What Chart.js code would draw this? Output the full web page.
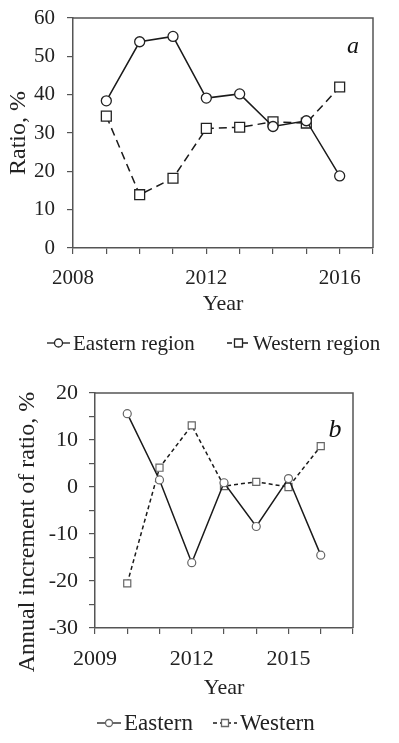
<!DOCTYPE html>
<html>
<head>
<meta charset="utf-8">
<script src="https://cdn.jsdelivr.net/npm/chart.js@4.4.1/dist/chart.umd.min.js"></script>
<style>
  body { margin: 0; background: #fff; }
  .box { position: absolute; left: 0; width: 399px; }
</style>
</head>
<body>
<div class="box" style="top:0"><canvas id="ratio" width="399" height="355"></canvas></div>
<div class="box" style="top:355px"><canvas id="increment" width="399" height="388"></canvas></div>
<script>
// panel a: ratio by year
const ratioYears = [2009, 2010, 2011, 2012, 2013, 2014, 2015, 2016];
const eastRatio = [38.4, 53.8, 55.2, 39.1, 40.2, 31.7, 33.2, 18.8];
const westRatio = [34.4, 13.9, 18.2, 31.2, 31.5, 32.9, 32.6, 42.0];
const ratioTickLabels = [2008, 2012, 2016];

// panel b: annual increment
const incYears = [2010, 2011, 2012, 2013, 2014, 2015, 2016];
const eastInc = [15.6, 1.5, -16.1, 0.9, -8.4, 1.8, -14.5];
const westInc = [-20.5, 4.1, 13.1, 0.2, 1.1, 0.0, 8.7];
const incTickLabels = [2009, 2012, 2015];
const incValueLabels = [20, 10, 0, -10, -20, -30];

Chart.defaults.font.family = '"Liberation Serif", "Times New Roman", serif';
Chart.defaults.color = '#222';

const pts = (xs, ys) => xs.map((x, i) => ({ x: x, y: ys[i] }));

// box around plot area (top + right sides)
const frame = {
  id: 'frame',
  afterDraw(chart) {
    const a = chart.chartArea, ctx = chart.ctx;
    ctx.save();
    ctx.strokeStyle = '#555';
    ctx.lineWidth = 1.5;
    ctx.beginPath();
    ctx.moveTo(a.left, a.top);
    ctx.lineTo(a.right, a.top);
    ctx.lineTo(a.right, a.bottom);
    ctx.stroke();
    ctx.restore();
  }
};

// legend drawn as line + marker + label, like the paper figure
const lineLegend = {
  id: 'lineLegend',
  afterDraw(chart, args, opts) {
    const ctx = chart.ctx;
    chart.data.datasets.forEach((ds, i) => {
      const x = opts.x[i], y = opts.y, len = opts.len;
      ctx.save();
      ctx.strokeStyle = ds.borderColor;
      ctx.lineWidth = 1.3;
      ctx.setLineDash(ds.borderDash ? opts.dash : []);
      ctx.beginPath();
      ctx.moveTo(x, y);
      ctx.lineTo(x + len, y);
      ctx.stroke();
      ctx.setLineDash([]);
      ctx.fillStyle = '#fff';
      ctx.strokeStyle = ds.pointBorderColor;
      ctx.beginPath();
      const cx = x + len / 2;
      if (ds.pointStyle === 'rect') {
        ctx.rect(cx - opts.r, y - opts.r, opts.r * 2, opts.r * 2);
      } else {
        ctx.arc(cx, y, opts.r, 0, Math.PI * 2);
      }
      ctx.fill();
      ctx.stroke();
      ctx.fillStyle = '#222';
      ctx.font = opts.font;
      ctx.textBaseline = 'middle';
      ctx.fillText(ds.label, x + len + 3, y + 1);
      ctx.restore();
    });
  }
};

// free text: panel letter, and optionally a rotated axis title
const freeText = {
  id: 'freeText',
  afterDraw(chart, args, opts) {
    const ctx = chart.ctx;
    (opts.items || []).forEach(t => {
      ctx.save();
      ctx.fillStyle = t.color || '#111';
      ctx.font = t.font;
      ctx.textAlign = 'center';
      ctx.textBaseline = 'middle';
      ctx.translate(t.x, t.y);
      if (t.rotate) ctx.rotate(t.rotate);
      ctx.fillText(t.text, 0, 0);
      ctx.restore();
    });
  }
};

function axisBase(extra) {
  return Object.assign({
    type: 'linear',
    grid: { drawOnChartArea: false, drawTicks: true, tickLength: 6, color: '#555', lineWidth: 1.2 },
    border: { color: '#555', width: 1.5 }
  }, extra);
}

new Chart(document.getElementById('ratio'), {
  type: 'line',
  data: {
    datasets: [
      {
        label: 'Eastern region', data: pts(ratioYears, eastRatio),
        borderColor: '#1a1a1a', borderWidth: 1.5, tension: 0,
        pointStyle: 'circle', pointRadius: 5, pointBorderColor: '#222',
        pointBackgroundColor: '#fff', pointBorderWidth: 1.3
      },
      {
        label: 'Western region', data: pts(ratioYears, westRatio),
        borderColor: '#1a1a1a', borderWidth: 1.5, borderDash: [8, 5], tension: 0,
        pointStyle: 'rect', pointRadius: 7, pointBorderColor: '#222',
        pointBackgroundColor: '#fff', pointBorderWidth: 1.3
      }
    ]
  },
  options: {
    responsive: false,
    animation: false,
    layout: { autoPadding: false, padding: { top: 18, left: 0, right: 26, bottom: 37 } },
    plugins: {
      legend: { display: false },
      tooltip: { enabled: false },
      lineLegend: { x: [47, 227], y: 343, len: 23, r: 4, dash: [5, 3], font: '21px "Liberation Serif"' },
      freeText: { items: [{ text: 'a', x: 353, y: 47, font: 'italic 24px "Liberation Serif"' }] }
    },
    scales: {
      x: axisBase({
        min: 2008, max: 2017,
        ticks: {
          stepSize: 1, autoSkip: false, maxRotation: 0, padding: 12,
          font: { size: 21 },
          callback: v => ratioTickLabels.includes(v) ? String(v) : ''
        },
        title: { display: true, text: 'Year', font: { size: 22 }, padding: { top: 0, bottom: 1 } },
        afterFit: s => { s.height = 70; }
      }),
      y: axisBase({
        min: 0, max: 60,
        ticks: { stepSize: 10, padding: 12, font: { size: 21 } },
        title: { display: true, text: 'Ratio, %', font: { size: 24 }, padding: { top: 4, bottom: 0 } },
        afterFit: s => { s.width = 73; s.paddingTop = 0; s.paddingBottom = 0; }
      })
    }
  },
  plugins: [frame, lineLegend, freeText]
});

new Chart(document.getElementById('increment'), {
  type: 'line',
  data: {
    datasets: [
      {
        label: 'Eastern', data: pts(incYears, eastInc),
        borderColor: '#1a1a1a', borderWidth: 1.5, tension: 0,
        pointStyle: 'circle', pointRadius: 4, pointBorderColor: '#666',
        pointBackgroundColor: '#fff', pointBorderWidth: 1.2
      },
      {
        label: 'Western', data: pts(incYears, westInc),
        borderColor: '#1a1a1a', borderWidth: 1.5, borderDash: [4, 3], tension: 0,
        pointStyle: 'rect', pointRadius: 5, pointBorderColor: '#666',
        pointBackgroundColor: '#fff', pointBorderWidth: 1.2
      }
    ]
  },
  options: {
    responsive: false,
    animation: false,
    layout: { autoPadding: false, padding: { top: 38, left: 0, right: 46, bottom: 38 } },
    plugins: {
      legend: { display: false },
      tooltip: { enabled: false },
      lineLegend: { x: [97, 213], y: 368, len: 24, r: 3.5, dash: [4, 3], font: '23px "Liberation Serif"' },
      freeText: { items: [
        { text: 'b', x: 335, y: 75, font: 'italic 26px "Liberation Serif"' },
        { text: 'Annual increment of ratio, %', x: 28, y: 177, rotate: -Math.PI / 2, color: '#222', font: '24px "Liberation Serif"' }
      ] }
    },
    scales: {
      x: axisBase({
        min: 2009, max: 2017,
        ticks: {
          stepSize: 1, autoSkip: false, maxRotation: 0, padding: 12,
          font: { size: 22 },
          callback: v => incTickLabels.includes(v) ? String(v) : ''
        },
        title: { display: true, text: 'Year', font: { size: 22 }, padding: { top: 0, bottom: 4 } },
        afterFit: s => { s.height = 77; }
      }),
      y: axisBase({
        min: -30, max: 20,
        ticks: {
          stepSize: 5, autoSkip: false, padding: 11, font: { size: 22 },
          callback: v => incValueLabels.includes(v) ? String(v) : ''
        },
        title: { display: false },
        afterFit: s => { s.width = 95; s.paddingTop = 0; s.paddingBottom = 0; }
      })
    }
  },
  plugins: [frame, lineLegend, freeText]
});
</script>
</body>
</html>
